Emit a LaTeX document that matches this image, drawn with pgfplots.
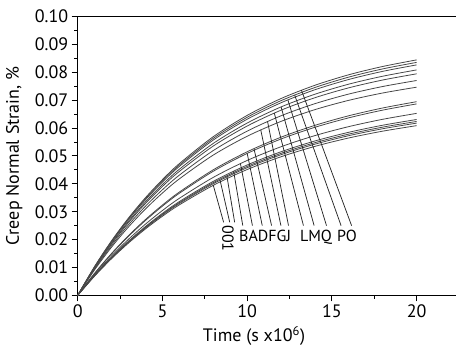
\documentclass[border=0pt]{standalone}
\usepackage{fontspec}
\setmainfont{PT Sans}
\usepackage{pgfplots}
\pgfplotsset{compat=1.18}
\usepackage{pgfplotstable}

\pgfplotstableread{
t c1 c2 c3 c4 c5 c6 c7 c8 c9 c10 c11 c12 c13 c14
0 0 0 0 0 0 0 0 0 0 0 0 0 0 0
1 0.01037 0.01026 0.01015 0.00993 0.00976 0.00946 0.00917 0.00791 0.00782 0.00743 0.00718 0.00710 0.00703 0.00693
2 0.01958 0.01937 0.01916 0.01875 0.01842 0.01786 0.01731 0.01503 0.01485 0.01412 0.01364 0.01349 0.01336 0.01317
3 0.02777 0.02747 0.02718 0.02658 0.02612 0.02534 0.02455 0.02143 0.02118 0.02013 0.01945 0.01924 0.01905 0.01878
4 0.03505 0.03468 0.03430 0.03356 0.03298 0.03198 0.03099 0.02720 0.02688 0.02555 0.02469 0.02442 0.02418 0.02383
5 0.04152 0.04108 0.04064 0.03975 0.03907 0.03789 0.03671 0.03239 0.03201 0.03043 0.02941 0.02908 0.02880 0.02838
6 0.04728 0.04677 0.04627 0.04526 0.04448 0.04314 0.04180 0.03706 0.03663 0.03482 0.03365 0.03327 0.03295 0.03247
8 0.05694 0.05634 0.05573 0.05452 0.05358 0.05196 0.05034 0.04505 0.04453 0.04233 0.04090 0.04045 0.04006 0.03948
10 0.06458 0.06390 0.06321 0.06183 0.06076 0.05893 0.05709 0.05152 0.05093 0.04841 0.04678 0.04626 0.04581 0.04515
12 0.07063 0.06987 0.06912 0.06762 0.06645 0.06444 0.06243 0.05676 0.05611 0.05333 0.05153 0.05096 0.05047 0.04974
14 0.07539 0.07459 0.07379 0.07218 0.07093 0.06879 0.06665 0.06101 0.06031 0.05733 0.05540 0.05478 0.05425 0.05346
16 0.07917 0.07833 0.07748 0.07580 0.07448 0.07224 0.06999 0.06445 0.06371 0.06056 0.05852 0.05787 0.05731 0.05648
18 0.08214 0.08127 0.08039 0.07864 0.07728 0.07495 0.07262 0.06724 0.06647 0.06318 0.06105 0.06037 0.05979 0.05892
20 0.0845 0.0836 0.0827 0.0809 0.0795 0.0771 0.0747 0.0695 0.0687 0.0653 0.0631 0.0624 0.0618 0.0609
}\creep

\begin{document}
\begin{tikzpicture}
\begin{axis}[
  scale only axis,
  width=378.3pt, height=278.6pt,
  xmin=0, xmax=22.32, ymin=0, ymax=0.10,
  axis x line*=box, axis y line*=left,
  axis line style={black, line width=1.3pt},
  tick pos=left,
  tick align=outside,
  major tick length=6pt, minor tick length=3.5pt,
  every tick/.style={black, line width=1pt},
  xtick={0,5,10,15,20},
  ytick={0,0.01,0.02,0.03,0.04,0.05,0.06,0.07,0.08,0.09,0.10},
  minor x tick num=1, minor y tick num=1,
  /pgf/number format/assume math mode=true,
  yticklabel style={/pgf/number format/.cd, fixed, fixed zerofill, precision=2},
  tick label style={font=\fontsize{18}{21}\selectfont, black},
  every axis plot/.append style={smooth},
]
\pgfplotsinvokeforeach{1,...,14}{
  \addplot[black!72, line width=0.8pt] table[x=t, y=c#1] {\creep};
}
% leader lines
\pgfplotsset{leader/.style={black!85, line width=0.75pt, sharp plot}}
\addplot[leader] coordinates {(8.0,0.03948) (8.61,0.0262)};
\addplot[leader] coordinates {(8.4,0.04131) (8.97,0.0262)};
\addplot[leader] coordinates {(8.8,0.04292) (9.26,0.0262)};
\addplot[leader] coordinates {(9.2,0.04457) (9.74,0.0250)};
\addplot[leader] coordinates {(9.6,0.04729) (10.31,0.0250)};
\addplot[leader] coordinates {(10.0,0.05093) (10.89,0.0250)};
\addplot[leader] coordinates {(10.4,0.05266) (11.44,0.0250)};
\addplot[leader] coordinates {(10.8,0.05938) (11.99,0.0250)};
\addplot[leader] coordinates {(11.2,0.06239) (12.44,0.0250)};
\addplot[leader] coordinates {(11.6,0.06541) (13.32,0.0250)};
\addplot[leader] coordinates {(12.0,0.06762) (13.95,0.0250)};
\addplot[leader] coordinates {(12.4,0.07014) (14.68,0.0250)};
\addplot[leader] coordinates {(12.8,0.07189) (15.54,0.0250)};
\addplot[leader] coordinates {(13.2,0.07362) (16.16,0.0250)};
\coordinate (O) at (rel axis cs:0,0);
\coordinate (L001) at (axis cs:8.87,0.0252);
\coordinate (LB) at (axis cs:11.06,0.0194);
\coordinate (LL) at (axis cs:14.06,0.0194);
\coordinate (LP) at (axis cs:15.89,0.0194);
\end{axis}
\node[rotate=-90, anchor=west, inner sep=0pt, font=\fontsize{16}{19}\selectfont] at (L001) {001};
\node[anchor=base, inner sep=0pt, font=\fontsize{16}{19}\selectfont] at (LB) {BADFGJ};
\node[anchor=base, inner sep=0pt, font=\fontsize{16}{19}\selectfont] at (LL) {LMQ};
\node[anchor=base, inner sep=0pt, font=\fontsize{16}{19}\selectfont] at (LP) {PO};
\node[rotate=90, anchor=base, inner sep=0pt, font=\fontsize{18}{21}\selectfont] at ([xshift=-58.7pt, yshift=139.3pt]O) {Creep Normal Strain, \%};
\node[anchor=base, inner sep=0pt, font=\fontsize{18}{21}\selectfont] at ([xshift=176.3pt, yshift=-46pt]O) {Time (s x10\textsuperscript{6})};
\pgfresetboundingbox
\path[use as bounding box] ([shift={(-77.7pt,-49.7pt)}]O) rectangle ([shift={(378.3pt,295.3pt)}]O);
\end{tikzpicture}
\end{document}
